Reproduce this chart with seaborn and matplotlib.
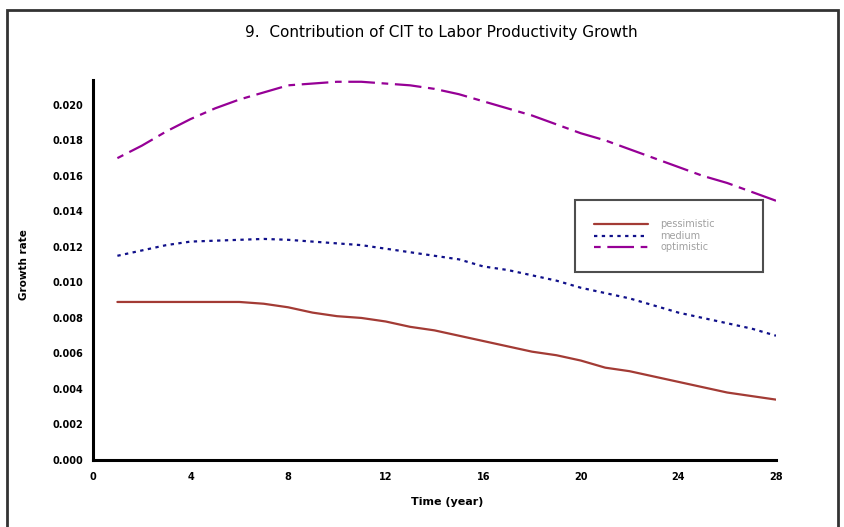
import numpy as np
import pandas as pd
import seaborn as sns
import matplotlib
matplotlib.use('Agg')
import matplotlib.pyplot as plt
from matplotlib.patches import Rectangle
from matplotlib.ticker import MultipleLocator

# values
years = list(range(1, 29))
pessimistic = [0.0089, 0.0089, 0.0089, 0.0089, 0.0089, 0.0089, 0.0088, 0.0086,
               0.0083, 0.0081, 0.0080, 0.0078, 0.0075, 0.0073, 0.0070, 0.0067,
               0.0064, 0.0061, 0.0059, 0.0056, 0.0052, 0.0050, 0.0047, 0.0044,
               0.0041, 0.0038, 0.0036, 0.0034]
medium = [0.0115, 0.0118, 0.0121, 0.0123, 0.01235, 0.0124, 0.01245, 0.0124,
          0.0123, 0.0122, 0.0121, 0.0119, 0.0117, 0.0115, 0.0113, 0.0109,
          0.0107, 0.0104, 0.0101, 0.0097, 0.0094, 0.0091, 0.0087, 0.0083,
          0.0080, 0.0077, 0.0074, 0.0070]
optimistic = [0.0170, 0.0177, 0.0185, 0.0192, 0.0198, 0.0203, 0.0207, 0.0211,
              0.0212, 0.0213, 0.0213, 0.0212, 0.0211, 0.0209, 0.0206, 0.0202,
              0.0198, 0.0194, 0.0189, 0.0184, 0.0180, 0.0175, 0.0170, 0.0165,
              0.0160, 0.0156, 0.0151, 0.0146]
x_ticks = [0, 4, 8, 12, 16, 20, 24, 28]
y_ticks = [0.000, 0.002, 0.004, 0.006, 0.008, 0.010, 0.012, 0.014, 0.016, 0.018, 0.020]

sns.set_style('white')
plt.rcParams['font.family'] = ['DejaVu Sans']
plt.rcParams['text.color'] = 'black'

fig = plt.figure(figsize=(8.45, 5.27), dpi=100)
ax = fig.add_axes([93 / 845, 1 - 460 / 527, (776 - 93) / 845, (460 - 80) / 527])

sns.lineplot(x=years, y=pessimistic, ax=ax, color='#a33b35', lw=1.6,
             linestyle='-', label='pessimistic')
sns.lineplot(x=years, y=medium, ax=ax, color='#10108a', lw=1.6,
             linestyle=(0, (1.5, 2)), label='medium')
sns.lineplot(x=years, y=optimistic, ax=ax, color='#960096', lw=1.6,
             linestyle=(0, (3, 3, 12, 3)), label='optimistic')

ax.set_xlim(0, 28)
ax.set_ylim(0, 0.0214)
ax.set_xticks(x_ticks)
ax.set_yticks(y_ticks)
ax.set_xticklabels([str(t) for t in x_ticks])
ax.set_yticklabels(['%.3f' % v for v in y_ticks])
ax.xaxis.set_minor_locator(MultipleLocator(2))
ax.yaxis.set_minor_locator(MultipleLocator(0.001))
for s in ['top', 'right']:
    ax.spines[s].set_visible(False)
for s in ['left', 'bottom']:
    ax.spines[s].set_linewidth(2.2)
    ax.spines[s].set_color('black')
ax.tick_params(which='major', direction='in', length=5, width=1.5, pad=7,
               labelsize=7, colors='black')
ax.tick_params(axis='x', which='major', pad=9)
ax.tick_params(which='minor', direction='in', length=3, width=1, colors='black')
for lab in ax.get_xticklabels() + ax.get_yticklabels():
    lab.set_fontweight('bold')
ax.set_xlabel('')
ax.set_ylabel('')

leg = ax.legend(loc='upper left',
                bbox_to_anchor=(575 / 845, 1 - 200 / 527 - 0.001, (763 - 575) / 845, 0.001),
                bbox_transform=fig.transFigure, mode='expand', borderaxespad=0,
                fontsize=7, handlelength=5.5, handletextpad=1.3, borderpad=2.0,
                labelspacing=0.15, fancybox=False, frameon=True)
leg.get_frame().set_edgecolor('#222222')
leg.get_frame().set_linewidth(1.5)
for t in leg.get_texts():
    t.set_color('#a0a0a0')

fig.text(441 / 845, 1 - 33 / 527, '9.  Contribution of CIT to Labor Productivity Growth',
         ha='center', va='center', fontsize=11, color='black')
fig.text(447 / 845, 1 - 502 / 527, 'Time (year)', ha='center', va='center',
         fontsize=8, fontweight='bold', color='black')
fig.text(24 / 845, 1 - 265 / 527, 'Growth rate', ha='center', va='center',
         rotation=90, fontsize=7.5, fontweight='bold', color='black')

fig.patches.append(Rectangle((7 / 845, -0.05), (838 - 7) / 845, 1.05 - 10 / 527,
                             transform=fig.transFigure, fill=False,
                             edgecolor='#333333', linewidth=2))

fig.savefig('out.png', dpi=100)
